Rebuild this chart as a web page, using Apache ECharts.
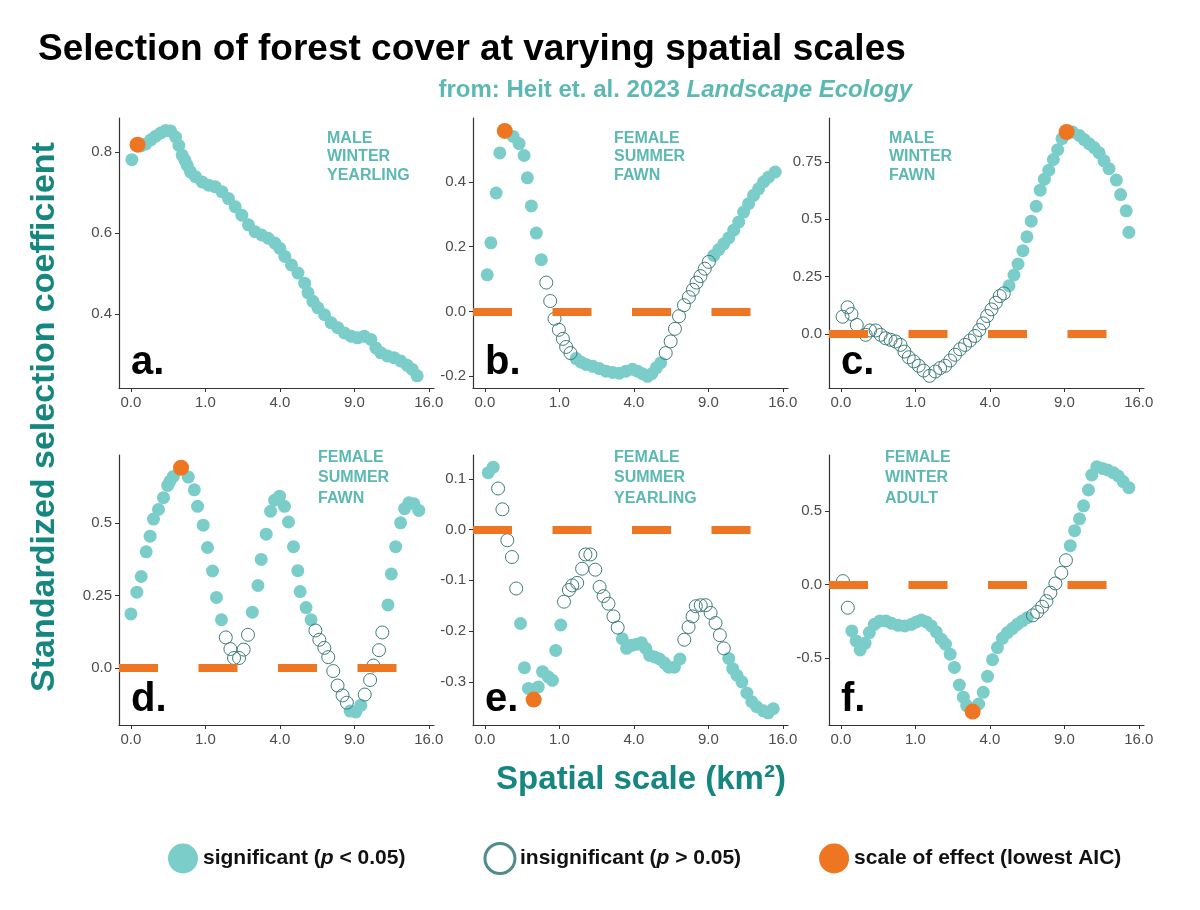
<!DOCTYPE html>
<html>
<head>
<meta charset="utf-8">
<title>Selection of forest cover at varying spatial scales</title>
<script src="https://cdn.jsdelivr.net/npm/echarts@6/dist/echarts.min.js"></script>
<style>
  html, body { margin: 0; padding: 0; background: #fff; }
  #chart { width: 1200px; height: 910px; }
</style>
</head>
<body>
<div id="chart"></div>
<script>
// x is on a square-root axis: x = sqrt(spatial scale in km2)
var xTickKm2 = [0, 1, 4, 9, 16];
var xTickLabels = ['0.0', '1.0', '4.0', '9.0', '16.0'];

var panelLetters = ['a.', 'b.', 'c.', 'd.', 'e.', 'f.'];
var panelGroups = [
  'MALE\nWINTER\nYEARLING', 'FEMALE\nSUMMER\nFAWN', 'MALE\nWINTER\nFAWN',
  'FEMALE\nSUMMER\nFAWN', 'FEMALE\nSUMMER\nYEARLING', 'FEMALE\nWINTER\nADULT'
];

var yTicksA = [0.4, 0.6, 0.8];
var yTicksB = [-0.2, 0.0, 0.2, 0.4];
var yTicksC = [0.0, 0.25, 0.5, 0.75];
var yTicksD = [0.0, 0.25, 0.5];
var yTicksE = [-0.3, -0.2, -0.1, 0.0, 0.1];
var yTicksF = [-0.5, 0.0, 0.5];

var yRangeA = [0.217, 0.884];
var yRangeB = [-0.237, 0.598];
var yRangeC = [-0.236, 0.942];
var yRangeD = [-0.197, 0.734];
var yRangeE = [-0.385, 0.147];
var yRangeF = [-0.956, 0.881];

// a. male winter yearling
var aSig = [[0.013,0.781],[0.133,0.815],[0.2,0.82],[0.267,0.83],[0.333,0.839],[0.4,0.847],[0.467,0.853],
  [0.533,0.852],[0.6,0.837],[0.644,0.816],[0.689,0.792],[0.724,0.78],[0.756,0.767],[0.8,0.751],[0.867,0.739],
  [0.956,0.726],[1.044,0.718],[1.133,0.714],[1.222,0.702],[1.311,0.685],[1.4,0.665],[1.489,0.644],[1.578,0.62],
  [1.667,0.603],[1.756,0.595],[1.844,0.587],[1.933,0.575],[2.0,0.562],[2.067,0.542],[2.156,0.521],[2.244,0.501],
  [2.333,0.476],[2.378,0.452],[2.444,0.431],[2.511,0.415],[2.6,0.398],[2.689,0.378],[2.778,0.366],[2.867,0.353],
  [2.956,0.345],[3.044,0.341],[3.133,0.345],[3.222,0.337],[3.289,0.316],[3.356,0.304],[3.444,0.296],[3.533,0.292],
  [3.622,0.284],[3.711,0.273],[3.778,0.263],[3.844,0.247]];
var aIns = [];
var aBest = [[0.089,0.818]];

// b. female summer fawn
var bSig = [[0.031,0.113],[0.08,0.212],[0.151,0.366],[0.2,0.49],[0.379,0.541],[0.459,0.519],[0.526,0.482],
  [0.57,0.413],[0.624,0.326],[0.69,0.242],[0.757,0.16],
  [1.225,-0.146],[1.292,-0.157],[1.359,-0.164],[1.448,-0.17],[1.537,-0.177],[1.626,-0.185],[1.715,-0.189],
  [1.804,-0.191],[1.893,-0.185],[1.982,-0.179],[2.049,-0.185],[2.116,-0.193],[2.183,-0.201],[2.24,-0.193],
  [2.303,-0.174],[2.361,-0.159],
  [3.073,0.173],[3.14,0.191],[3.207,0.209],[3.274,0.227],[3.341,0.251],[3.408,0.276],[3.474,0.307],[3.541,0.333],
  [3.608,0.359],[3.675,0.379],[3.742,0.4],[3.808,0.415],[3.898,0.431]];
var bIns = [[0.824,0.089],[0.877,0.032],[0.935,-0.023],[0.993,-0.057],[1.047,-0.085],[1.091,-0.11],[1.149,-0.129],
  [2.428,-0.129],[2.494,-0.093],[2.552,-0.054],[2.606,-0.015],[2.673,0.019],[2.739,0.044],[2.793,0.067],
  [2.842,0.089],[2.895,0.109],[2.953,0.132],[3.007,0.153]];
var bBest = [[0.267,0.558]];

// c. male winter fawn
var cSig = [[2.258,0.21],[2.324,0.257],[2.378,0.305],[2.444,0.363],[2.498,0.424],[2.556,0.492],[2.622,0.557],
  [2.676,0.627],[2.733,0.675],[2.791,0.714],[2.853,0.761],[2.911,0.804],[2.969,0.852],[3.111,0.881],[3.2,0.866],
  [3.267,0.848],[3.333,0.83],[3.4,0.813],[3.467,0.79],[3.533,0.755],[3.6,0.721],[3.698,0.671],[3.756,0.608],
  [3.831,0.537],[3.867,0.443]];
var cIns = [[0.022,0.075],[0.089,0.116],[0.142,0.087],[0.213,0.039],[0.333,-0.004],[0.391,0.015],[0.467,0.015],
  [0.533,-0.004],[0.6,-0.019],[0.667,-0.026],[0.733,-0.033],[0.8,-0.048],[0.853,-0.077],[0.911,-0.102],
  [0.978,-0.12],[1.044,-0.139],[1.111,-0.16],[1.191,-0.183],[1.267,-0.164],[1.333,-0.149],[1.4,-0.139],
  [1.467,-0.116],[1.533,-0.091],[1.6,-0.067],[1.667,-0.048],[1.733,-0.029],[1.8,-0.009],[1.858,0.017],
  [1.911,0.046],[1.964,0.078],[2.022,0.107],[2.08,0.136],[2.133,0.165],[2.187,0.177]];
var cBest = [[3.031,0.881]];

// d. female summer fawn
var dSig = [[0.0,0.186],[0.08,0.261],[0.138,0.315],[0.205,0.4],[0.258,0.454],[0.303,0.513],[0.37,0.546],
  [0.437,0.587],[0.494,0.629],[0.526,0.644],[0.57,0.66],[0.771,0.658],[0.851,0.614],[0.895,0.557],[0.971,0.492],
  [1.029,0.415],[1.096,0.334],[1.149,0.243],[1.216,0.166],
  [1.63,0.192],[1.706,0.284],[1.75,0.374],[1.817,0.461],[1.875,0.54],[1.929,0.578],[1.996,0.592],[2.062,0.557],
  [2.116,0.503],[2.183,0.418],[2.241,0.335],[2.272,0.263],[2.352,0.208],[2.419,0.166],
  [2.944,-0.149],[3.02,-0.152],[3.087,-0.129],
  [3.452,0.217],[3.497,0.324],[3.555,0.418],[3.621,0.5],[3.675,0.549],[3.733,0.569],[3.8,0.566],[3.866,0.543]];
var dIns = [[1.274,0.105],[1.336,0.065],[1.385,0.034],[1.452,0.034],[1.514,0.063],[1.572,0.114],
  [2.477,0.129],[2.53,0.097],[2.597,0.069],[2.65,0.037],[2.717,-0.011],[2.775,-0.061],[2.842,-0.095],[2.9,-0.12],
  [3.14,-0.092],[3.212,-0.042],[3.256,0.008],[3.332,0.061],[3.376,0.122]];
var dBest = [[0.673,0.69]];

// e. female summer yearling
var eSig = [[0.044,0.112],[0.111,0.123],
  [0.478,-0.185],[0.531,-0.272],[0.584,-0.313],[0.717,-0.31],[0.774,-0.28],[0.85,-0.29],[0.907,-0.297],
  [0.951,-0.238],[1.018,-0.188],
  [1.845,-0.215],[1.903,-0.234],[1.969,-0.228],[2.035,-0.226],[2.102,-0.223],[2.159,-0.234],[2.212,-0.248],
  [2.279,-0.251],[2.345,-0.255],[2.412,-0.263],[2.469,-0.271],[2.544,-0.271],[2.619,-0.255],
  [3.274,-0.254],[3.327,-0.274],[3.385,-0.287],[3.451,-0.3],[3.518,-0.322],[3.584,-0.339],[3.65,-0.349],
  [3.739,-0.357],[3.805,-0.361],[3.872,-0.353]];
var eIns = [[0.177,0.081],[0.235,0.04],[0.301,-0.021],[0.363,-0.054],[0.42,-0.116],
  [1.062,-0.142],[1.128,-0.119],[1.173,-0.11],[1.239,-0.105],[1.305,-0.077],[1.35,-0.049],[1.416,-0.049],
  [1.482,-0.079],[1.54,-0.113],[1.593,-0.131],[1.659,-0.146],[1.726,-0.171],[1.783,-0.193],
  [2.677,-0.217],[2.735,-0.192],[2.788,-0.171],[2.832,-0.151],[2.898,-0.149],[2.965,-0.149],[3.031,-0.164],
  [3.097,-0.184],[3.155,-0.208],[3.208,-0.234]];
var eBest = [[0.655,-0.335]];

// f. female winter adult
var fSig = [[0.147,-0.316],[0.204,-0.384],[0.258,-0.445],[0.324,-0.4],[0.382,-0.327],[0.449,-0.271],[0.524,-0.248],
  [0.604,-0.248],[0.68,-0.264],[0.769,-0.278],[0.858,-0.282],[0.947,-0.271],[1.013,-0.255],[1.08,-0.242],
  [1.147,-0.255],[1.213,-0.282],[1.28,-0.323],[1.347,-0.372],[1.404,-0.406],[1.467,-0.474],[1.524,-0.564],
  [1.591,-0.684],[1.644,-0.767],[1.689,-0.824],[1.849,-0.813],[1.911,-0.734],[1.969,-0.625],[2.036,-0.512],
  [2.102,-0.429],[2.169,-0.366],[2.236,-0.327],[2.302,-0.3],[2.369,-0.271],[2.436,-0.248],[2.502,-0.226],
  [3.08,0.264],[3.138,0.366],[3.204,0.447],[3.258,0.535],[3.324,0.643],[3.369,0.745],[3.436,0.801],[3.511,0.79],
  [3.582,0.779],[3.658,0.761],[3.724,0.738],[3.791,0.7],[3.867,0.659]];
var fIns = [[0.027,0.023],[0.093,-0.158],
  [2.578,-0.21],[2.636,-0.187],[2.702,-0.151],[2.76,-0.113],[2.813,-0.056],[2.88,0.007],[2.96,0.079],[3.022,0.165]];
var fBest = [[1.769,-0.865]];

var TEAL = '#7bcdca';
var HOLLOW = '#3f7c79';
var ORANGE = '#ee7623';
var LABEL_TEAL = '#5cb8b2';
var TITLE_TEAL = '#168680';

var panels = [
  { sig: aSig, ins: aIns, best: aBest, ticks: yTicksA, range: yRangeA },
  { sig: bSig, ins: bIns, best: bBest, ticks: yTicksB, range: yRangeB },
  { sig: cSig, ins: cIns, best: cBest, ticks: yTicksC, range: yRangeC },
  { sig: dSig, ins: dIns, best: dBest, ticks: yTicksD, range: yRangeD },
  { sig: eSig, ins: eIns, best: eBest, ticks: yTicksE, range: yRangeE },
  { sig: fSig, ins: fIns, best: fBest, ticks: yTicksF, range: yRangeF }
];

var gridLefts = [119, 473, 829];
var gridTops = [118, 455];
var xRoots = xTickKm2.map(function (v) { return Math.sqrt(v); });

function yFmt(v) {
  var r = Math.round(v * 100) / 100;
  return (Math.round(r * 10) === r * 10) ? r.toFixed(1) : String(r);
}

var grids = [], xAxes = [], yAxes = [], series = [], graphics = [];

panels.forEach(function (p, i) {
  var col = i % 3, row = Math.floor(i / 3);
  var left = gridLefts[col], top = gridTops[row];
  grids.push({ left: left, top: top, width: 315, height: 270 });

  xAxes.push({
    type: 'value', gridIndex: i, min: -0.16, max: 4.07,
    splitLine: { show: false },
    axisLine: { onZero: false, lineStyle: { color: '#333', width: 1.2 } },
    axisTick: { customValues: xRoots, length: 4, lineStyle: { color: '#333' } },
    axisLabel: {
      customValues: xRoots, margin: 7, fontSize: 15, color: '#4d4d4d',
      fontFamily: 'Liberation Sans, Arial, sans-serif',
      formatter: function (v) {
        var k = xRoots.findIndex(function (r) { return Math.abs(r - v) < 1e-6; });
        return k >= 0 ? xTickLabels[k] : '';
      }
    }
  });

  yAxes.push({
    type: 'value', gridIndex: i, min: p.range[0], max: p.range[1],
    splitLine: { show: false },
    axisLine: { show: true, onZero: false, lineStyle: { color: '#333', width: 1.2 } },
    axisTick: { show: true, customValues: p.ticks, length: 4, lineStyle: { color: '#333' } },
    axisLabel: {
      customValues: p.ticks, margin: 7, fontSize: 15, color: '#4d4d4d',
      fontFamily: 'Liberation Sans, Arial, sans-serif',
      formatter: yFmt
    }
  });

  series.push({
    name: 'sig', type: 'scatter', xAxisIndex: i, yAxisIndex: i,
    data: p.sig, symbol: 'circle', symbolSize: 13, z: 2,
    itemStyle: { color: TEAL, opacity: 1 }
  });

  var hasZero = p.range[0] < 0 && p.range[1] > 0;
  series.push({
    name: 'insig', type: 'scatter', xAxisIndex: i, yAxisIndex: i,
    data: p.ins, symbol: 'circle', symbolSize: 13, z: 3,
    itemStyle: { color: 'rgba(255,255,255,0)', borderColor: HOLLOW, borderWidth: 1, opacity: 1 },
    markLine: hasZero ? {
      silent: true, symbol: ['none', 'none'], label: { show: false },
      lineStyle: { color: ORANGE, width: 8, type: [39, 40.5], cap: 'butt', opacity: 1 },
      emphasis: { disabled: true },
      data: [{ yAxis: 0 }]
    } : undefined
  });

  series.push({
    name: 'best', type: 'scatter', xAxisIndex: i, yAxisIndex: i,
    data: p.best, symbol: 'circle', symbolSize: 16, z: 4,
    itemStyle: { color: ORANGE, opacity: 1 }
  });

  graphics.push({
    type: 'text', x: left + 12, y: top + 245,
    style: {
      text: panelLetters[i], fill: '#000',
      font: 'bold 40px "Liberation Sans", Arial, sans-serif',
      textVerticalAlign: 'middle'
    }
  });

  var gx = [327, 614, 889, 318, 614, 885][i];
  graphics.push({
    type: 'text', x: gx, y: row === 0 ? 129 : 447,
    style: {
      text: panelGroups[i], fill: LABEL_TEAL,
      font: 'bold 16px "Liberation Sans", Arial, sans-serif',
      lineHeight: row === 0 ? 18.5 : 20.5,
      textVerticalAlign: 'top'
    }
  });
});

graphics.push({
  type: 'text', x: 38, y: 50,
  style: {
    text: 'Selection of forest cover at varying spatial scales', fill: '#000',
    font: 'bold 37px "Liberation Sans", Arial, sans-serif',
    textVerticalAlign: 'middle'
  }
});
graphics.push({
  type: 'text', x: 912, y: 90,
  style: {
    text: '{n|from: Heit et. al. 2023 }{i|Landscape Ecology}',
    textAlign: 'right', textVerticalAlign: 'middle',
    rich: {
      n: { fontSize: 24, fontWeight: 'bold', fill: LABEL_TEAL, color: LABEL_TEAL, fontFamily: 'Liberation Sans, Arial, sans-serif' },
      i: { fontSize: 24, fontWeight: 'bold', fontStyle: 'italic', fill: LABEL_TEAL, color: LABEL_TEAL, fontFamily: 'Liberation Sans, Arial, sans-serif' }
    }
  }
});
graphics.push({
  type: 'text', x: 641, y: 780,
  style: {
    text: 'Spatial scale (km\u00b2)', fill: TITLE_TEAL,
    font: 'bold 33px "Liberation Sans", Arial, sans-serif',
    textAlign: 'center', textVerticalAlign: 'middle'
  }
});
graphics.push({
  type: 'text', x: 45, y: 417, rotation: Math.PI / 2,
  style: {
    text: 'Standardized selection coefficient', fill: TITLE_TEAL,
    font: 'bold 34px "Liberation Sans", Arial, sans-serif',
    textAlign: 'center', textVerticalAlign: 'middle'
  }
});

var legendNames = {
  sig: 'significant ({i|p} < 0.05)',
  insig: 'insignificant ({i|p} > 0.05)',
  best: 'scale of effect (lowest AIC)'
};

var chart = echarts.init(document.getElementById('chart'));
chart.setOption({
  animation: false,
  backgroundColor: '#fff',
  grid: grids,
  xAxis: xAxes,
  yAxis: yAxes,
  legend: {
    left: 163, top: 837, itemGap: 78, itemWidth: 30, itemHeight: 30, icon: 'circle',
    selectedMode: false,
    data: [
      { name: 'sig' },
      { name: 'insig', itemStyle: { color: '#fff', borderColor: '#4f8d8a', borderWidth: 3 } },
      { name: 'best' }
    ],
    formatter: function (n) { return legendNames[n]; },
    textStyle: {
      fontSize: 21, fontWeight: 'bold', color: '#111',
      fontFamily: 'Liberation Sans, Arial, sans-serif',
      rich: { i: { fontSize: 21, fontWeight: 'bold', fontStyle: 'italic', color: '#111', fontFamily: 'Liberation Sans, Arial, sans-serif' } }
    }
  },
  graphic: { elements: graphics },
  series: series
});
</script>
</body>
</html>
